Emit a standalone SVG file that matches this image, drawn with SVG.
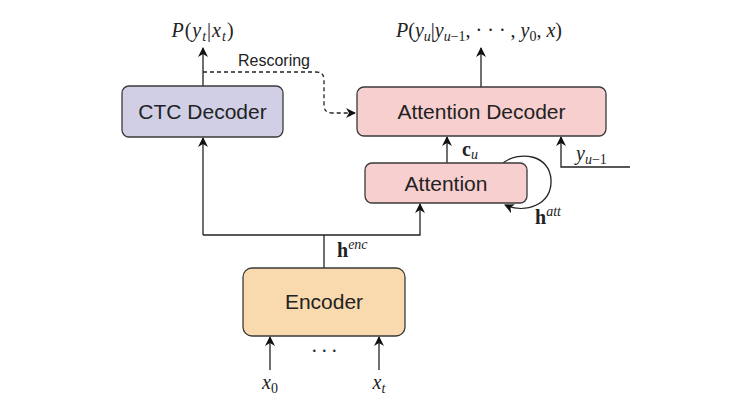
<svg xmlns="http://www.w3.org/2000/svg" width="733" height="414" viewBox="0 0 733 414">
<style>
.box{stroke:#3a3a3a;stroke-width:1.3}
.lbl{font-family:"Liberation Sans",Arial,sans-serif;font-size:21px;fill:#222;text-anchor:middle}
.m{font-family:"Liberation Serif","Times New Roman",serif;font-style:italic;font-size:20px;fill:#222}
.up{font-style:normal}
.b{font-weight:bold;font-style:normal}
.sub{font-size:14px}
.ln{fill:none;stroke:#222;stroke-width:1.3}
.dash{fill:none;stroke:#222;stroke-width:1.3;stroke-dasharray:4,3}
</style>
<defs>
<marker id="ah" viewBox="0 0 10 10" refX="9" refY="5" markerWidth="10" markerHeight="10" markerUnits="userSpaceOnUse" orient="auto">
<path d="M0,0 L10,5 L0,10 L3,5 z" fill="#111"/>
</marker>
</defs>
<rect width="733" height="414" fill="#fff"/>
<g id="connectors">
<path class="ln" d="M203,86 V48" marker-end="url(#ah)"/>
<path class="dash" d="M203,72 H316 Q324,72 324,80 V105 Q324,113 332,113 H355" marker-end="url(#ah)"/>
<path class="ln" d="M481,87 V48" marker-end="url(#ah)"/>
<path class="ln" d="M447,163 V137" marker-end="url(#ah)"/>
<path class="ln" d="M630,167 H561 V137" marker-end="url(#ah)"/>
<path class="ln" d="M503,163 C520,150 550,155 551,180 C552,205 525,214 505,205" marker-end="url(#ah)"/>
<path class="ln" d="M324,268 V235"/>
<path class="ln" d="M203,235 H420 V204" marker-end="url(#ah)"/>
<path class="ln" d="M203,235 V138" marker-end="url(#ah)"/>
<path class="ln" d="M270,370 V337" marker-end="url(#ah)"/>
<path class="ln" d="M379,370 V337" marker-end="url(#ah)"/>
</g>
<g id="ctc">
<rect class="box" x="122" y="86" width="161" height="51" rx="7" fill="#d0cfe6"/>
<text class="lbl" x="202.5" y="119">CTC Decoder</text>
</g>
<g id="attdec">
<rect class="box" x="357" y="87" width="249" height="49" rx="7" fill="#f7cfcf"/>
<text class="lbl" x="481.5" y="119">Attention Decoder</text>
</g>
<g id="att">
<rect class="box" x="365" y="163" width="162" height="40" rx="7" fill="#f7cfcf"/>
<text class="lbl" x="446" y="191">Attention</text>
</g>
<g id="enc">
<rect class="box" x="243" y="268" width="162" height="68" rx="9" fill="#f9d9ae"/>
<text class="lbl" x="324" y="309">Encoder</text>
</g>
<g id="labels">
<text class="m" x="203" y="37" text-anchor="middle" letter-spacing="1">P<tspan class="up">(</tspan>y<tspan class="sub" dy="4">t</tspan><tspan class="up" dy="-4">|</tspan>x<tspan class="sub" dy="4">t</tspan><tspan class="up" dy="-4">)</tspan></text>
<text class="m" x="479" y="37" text-anchor="middle">P<tspan class="up">(</tspan>y<tspan class="sub" dy="4">u</tspan><tspan class="up" dy="-4">|</tspan>y<tspan class="sub" dy="4" font-style="italic">u<tspan class="up">−1</tspan></tspan><tspan class="up" dy="-4">, · · · , </tspan>y<tspan class="sub up" dy="4">0</tspan><tspan class="up" dy="-4">, </tspan>x<tspan class="up">)</tspan></text>
<text x="274" y="66" font-family="Liberation Sans,Arial,sans-serif" font-size="16" fill="#222" text-anchor="middle">Rescoring</text>
<text class="m" x="462" y="156"><tspan class="b">c</tspan><tspan class="sub" dy="3">u</tspan></text>
<text class="m" x="576" y="160">y<tspan class="sub" dy="4">u<tspan class="up">−1</tspan></tspan></text>
<text class="m" x="535" y="224"><tspan class="b">h</tspan><tspan class="sub" dy="-8">att</tspan></text>
<text class="m" x="337" y="257"><tspan class="b">h</tspan><tspan class="sub" dy="-8">enc</tspan></text>
<text class="m" x="324" y="358" text-anchor="middle" font-style="normal">· · ·</text>
<text class="m" x="270" y="389" text-anchor="middle">x<tspan class="sub up" dy="4">0</tspan></text>
<text class="m" x="379" y="389" text-anchor="middle">x<tspan class="sub" dy="4">t</tspan></text>
</g>
</svg>
